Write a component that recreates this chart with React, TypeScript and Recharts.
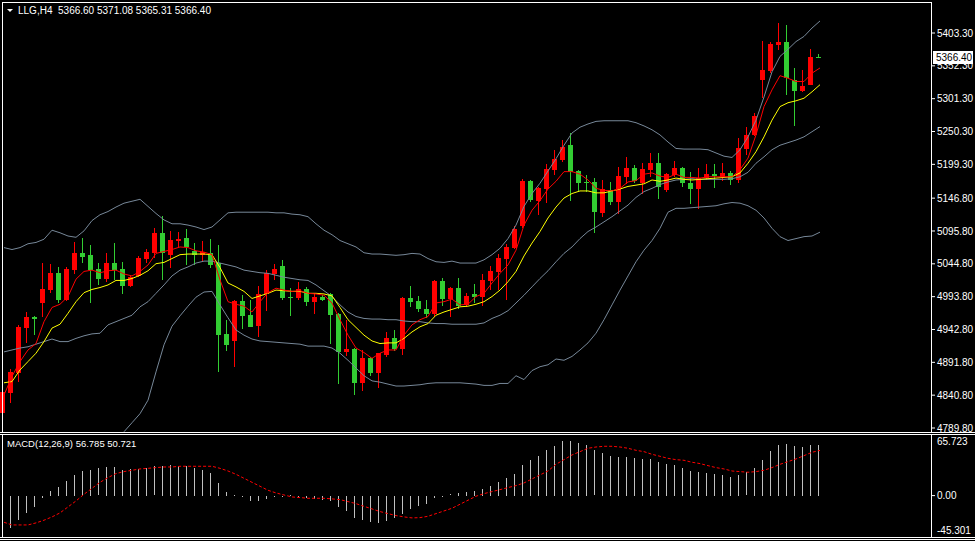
import { ComposedChart, Bar, Line, XAxis, YAxis, ReferenceLine } from 'recharts';

// H4 candles (index 0 = leftmost bar)
const opens = [
  4812.6, 4844.6, 4875.7, 4945.6, 4962.7, 4984.4, 5004.1, 5030.1, 4988.6, 5035.2,
  5062.1, 5058.5, 5036.8, 5021.2, 5046.5, 5036.8, 5010.8, 5025.9, 5051.8, 5061.1,
  5093.1, 5058.5, 5080.2, 5085.4, 5064.7, 5058.5, 5061.1, 5045.6, 4935.8, 4925.4,
  4987.1, 4965.3, 4948.2, 4997.9, 5029.0, 5041.4, 4993.3, 4991.7, 5005.2, 4986.0,
  4993.7, 4997.9, 4966.9, 4908.3, 4912.5, 4860.2, 4899.0, 4875.7, 4903.2, 4930.0,
  4912.5, 4992.2, 4987.1, 4974.6, 4966.4, 5018.1, 4990.2, 5007.7, 4980.8, 4997.9,
  4993.7, 5018.1, 5032.6, 5052.3, 5069.8, 5104.0, 5173.9, 5142.8, 5161.0, 5190.5,
  5206.0, 5229.3, 5189.0, 5172.4, 5172.3, 5124.2, 5159.5, 5141.3, 5180.1, 5194.1,
  5170.8, 5190.5, 5201.8, 5159.5, 5182.8, 5194.1, 5170.8, 5161.0, 5178.6, 5184.3,
  5180.1, 5185.4, 5175.0, 5223.1, 5244.9, 5330.3, 5344.3, 5384.7, 5389.8, 5330.3,
  5313.2, 5322.6, 5366.6,
];
const highs = [
  4880.0, 4881.4, 4949.8, 4969.5, 4963.8, 5046.5, 5044.5, 5039.4, 5040.3, 5079.2,
  5085.4, 5074.0, 5045.6, 5062.1, 5077.6, 5048.1, 5027.4, 5056.9, 5067.3, 5100.0,
  5119.1, 5096.2, 5094.7, 5098.4, 5077.6, 5080.2, 5083.4, 5074.0, 4957.5, 4988.6,
  4996.4, 4988.6, 5010.3, 5035.2, 5044.5, 5050.7, 5006.8, 5017.0, 5009.3, 4999.0,
  4996.4, 4999.9, 4968.0, 4957.5, 4913.5, 4911.0, 4900.5, 4906.8, 4939.4, 4942.0,
  4993.7, 5010.8, 4995.3, 4988.6, 5019.7, 5022.3, 5009.3, 5022.3, 4999.0, 5013.5,
  5029.0, 5041.9, 5060.1, 5075.1, 5104.0, 5176.5, 5175.0, 5164.6, 5199.8, 5221.6,
  5237.1, 5247.5, 5190.5, 5182.8, 5177.6, 5175.0, 5171.4, 5195.7, 5210.2, 5198.3,
  5200.9, 5217.4, 5216.5, 5185.4, 5205.0, 5195.0, 5187.9, 5193.2, 5199.4, 5199.4,
  5200.9, 5189.0, 5240.7, 5257.8, 5278.6, 5390.9, 5388.9, 5419.3, 5415.7, 5348.5,
  5345.8, 5378.0, 5371.08,
];
const lows = [
  4799.6, 4828.6, 4861.7, 4921.4, 4934.2, 4962.7, 4999.0, 4983.5, 4987.5, 5029.0,
  5046.5, 4983.5, 5011.9, 5017.0, 5019.7, 4997.5, 5009.3, 5023.9, 5045.6, 5053.4,
  5019.7, 5037.8, 5068.9, 5043.0, 5043.0, 5048.1, 5037.8, 4877.2, 4909.9, 4885.0,
  4943.6, 4946.2, 4931.6, 4972.0, 5019.7, 4988.6, 4963.8, 4988.6, 4979.3, 4966.9,
  4987.0, 4920.3, 4858.1, 4901.6, 4841.0, 4847.7, 4870.6, 4852.4, 4899.6, 4909.9,
  4903.2, 4978.2, 4969.5, 4960.2, 4962.7, 4979.8, 4962.7, 4974.2, 4977.3, 4983.5,
  4979.3, 5004.1, 5004.1, 4988.6, 5067.8, 5100.0, 5141.3, 5120.6, 5139.7, 5182.8,
  5203.4, 5142.8, 5156.8, 5156.8, 5093.1, 5117.1, 5136.2, 5122.2, 5168.8, 5169.9,
  5153.2, 5180.1, 5145.0, 5156.8, 5180.1, 5164.6, 5137.7, 5129.5, 5175.0, 5162.6,
  5173.9, 5167.2, 5170.8, 5213.8, 5243.3, 5301.9, 5340.7, 5376.9, 5307.0, 5258.9,
  5311.7, 5322.6, 5365.31,
];
const closes = [
  4846.2, 4877.2, 4947.1, 4962.7, 4958.6, 5005.7, 5030.1, 4988.6, 5036.8, 5062.1,
  5055.9, 5035.2, 5021.2, 5046.5, 5035.2, 5010.8, 5023.9, 5053.4, 5063.6, 5093.1,
  5061.1, 5081.8, 5083.4, 5070.5, 5058.5, 5062.4, 5043.0, 4934.2, 4918.7, 4987.1,
  4964.2, 4947.1, 4997.9, 5031.0, 5036.8, 4991.7, 4991.7, 5005.2, 4986.0, 4993.7,
  4988.6, 4965.3, 4908.3, 4912.5, 4860.2, 4899.0, 4875.7, 4905.8, 4930.0, 4912.5,
  4992.2, 4986.0, 4974.6, 4966.4, 5018.1, 4990.2, 5007.7, 4979.8, 4995.3, 4993.7,
  5019.7, 5033.6, 5054.3, 5071.4, 5098.9, 5173.9, 5143.9, 5162.1, 5192.1, 5207.6,
  5226.7, 5187.9, 5170.8, 5170.8, 5125.8, 5160.5, 5141.3, 5181.2, 5194.1, 5173.4,
  5191.6, 5201.8, 5164.6, 5184.3, 5194.1, 5169.9, 5161.0, 5178.6, 5184.3, 5181.7,
  5186.3, 5175.0, 5225.2, 5244.9, 5274.4, 5345.8, 5386.2, 5389.8, 5332.9, 5313.2,
  5321.0, 5366.5, 5366.4,
];

// moving averages (red = fast, yellow = slow)
const fastMa = [
  4841, 4870, 4893, 4911, 4921, 4955, 4977, 4982, 4994, 5021,
  5033, 5035, 5031, 5034, 5035, 5029, 5026, 5033, 5043, 5061,
  5064, 5067, 5071, 5070, 5065, 5063, 5059, 5020, 4986, 4982,
  4979, 4970, 4986, 5000, 5007, 5004, 5002, 5003, 4999, 4998,
  4996, 4984, 4958, 4934, 4914, 4907, 4898, 4906, 4911, 4911,
  4934, 4950, 4958, 4963, 4984, 4986, 4990, 4981, 4982, 4994,
  4999, 5015, 5030, 5043, 5066, 5105, 5128, 5143, 5161, 5173,
  5188, 5188, 5184, 5175, 5162, 5159, 5158, 5162, 5172, 5174,
  5184, 5186, 5181, 5179, 5184, 5179, 5179, 5178, 5180, 5180,
  5180, 5180, 5191, 5209, 5245, 5289, 5315, 5337, 5333, 5328,
  5328, 5341, 5349,
];
const slowMa = [
  4860, 4862, 4880, 4893, 4906, 4924, 4945, 4951, 4968, 4986,
  5000, 5005, 5008, 5012, 5019, 5019, 5022, 5027, 5034, 5045,
  5047, 5053, 5059, 5060, 5060, 5060, 5059, 5039, 5015, 5009,
  5002, 4991, 4995, 4999, 5004, 5003, 5002, 5002, 4999, 4999,
  4998, 4995, 4977, 4958, 4946, 4934, 4925, 4921, 4922, 4922,
  4929, 4939, 4947, 4952, 4965, 4970, 4974, 4978, 4979, 4982,
  4986, 4994, 5004, 5017, 5033, 5057, 5077, 5095, 5116, 5133,
  5147, 5154, 5158, 5158, 5155, 5155, 5158, 5161, 5165, 5167,
  5169, 5175, 5173, 5175, 5178, 5176, 5175, 5176, 5177, 5178,
  5179, 5180, 5186, 5201, 5219, 5242, 5268, 5289, 5295, 5298,
  5302, 5312, 5323,
];

// Bollinger bands
const bandUpper = [
  5070, 5067, 5070, 5076, 5078, 5083, 5097, 5093, 5088, 5086,
  5096, 5112, 5121, 5126, 5133, 5139, 5142, 5145, 5134, 5123,
  5113, 5107, 5107, 5105, 5102, 5098, 5102, 5113, 5124, 5125,
  5125, 5125, 5125, 5125, 5124, 5124, 5122, 5121, 5118, 5107,
  5097, 5090, 5081, 5076, 5071, 5062, 5060, 5060, 5059, 5058,
  5059, 5061, 5060, 5053, 5048, 5047, 5049, 5046, 5046, 5046,
  5051, 5059, 5069, 5084, 5105, 5134, 5154, 5170, 5189, 5208,
  5229, 5248, 5257, 5262, 5266, 5267, 5267, 5267, 5267, 5264,
  5259, 5253, 5245, 5234, 5224, 5223, 5223, 5223, 5222, 5217,
  5212, 5210, 5222, 5242, 5268, 5304, 5343, 5367, 5378, 5390,
  5398, 5411, 5422,
];
const bandMiddle = [
  4908, 4911, 4914, 4916, 4920, 4924, 4928, 4924, 4924, 4929,
  4933, 4936, 4937, 4950, 4955, 4960, 4965, 4978, 4986, 4999,
  5012, 5026, 5035, 5040, 5046, 5049, 5049, 5046, 5043, 5040,
  5035, 5033, 5031, 5030, 5027, 5024, 5022, 5020, 5019, 5012,
  5003, 4994, 4981, 4970, 4963, 4960, 4959, 4959, 4958, 4958,
  4956, 4955, 4955, 4953, 4952, 4952, 4951, 4951, 4951, 4951,
  4953, 4960, 4965, 4972, 4984, 4996, 5009, 5022, 5034, 5048,
  5061, 5071, 5084, 5095, 5102, 5110, 5118, 5127, 5136, 5148,
  5157, 5162, 5168, 5172, 5175, 5176, 5177, 5176, 5176, 5176,
  5176, 5177, 5180, 5187, 5201, 5211, 5222, 5229, 5233, 5237,
  5242, 5250, 5258,
];
const bandLower = [
  null, null, null, null, null, null, null, null, null, null,
  null, null, null, null, null,
  4784, 4798, 4812, 4833, 4877, 4919, 4948, 4964, 4979, 4993,
  5001, 5002, 4981, 4961, 4942, 4934, 4928, 4925, 4924, 4923,
  4922, 4921, 4920, 4917, 4917, 4917, 4914, 4906, 4895, 4883,
  4871, 4863, 4861, 4858, 4855, 4855, 4856, 4857, 4859, 4860,
  4860, 4860, 4860, 4859, 4858, 4856, 4856, 4859, 4859, 4871,
  4865, 4879, 4885, 4888, 4897, 4895, 4901, 4911, 4922, 4937,
  4958, 4981, 5004, 5026, 5048, 5066, 5081, 5100, 5125, 5131,
  5131, 5132, 5133, 5134, 5135, 5138, 5140, 5139, 5135, 5128,
  5116, 5100, 5087, 5081, 5084, 5087, 5088, 5094,
];

// MACD(12,26,9)
const macdHist = [
  -40.3, -35.9, -27.3, -19.1, -12.3, -2.6, 5.2, 9.7, 16.4, 23.2,
  27.6, 29.1, 30.6, 32.1, 32.1, 29.1, 29.9, 29.9, 31.4, 32.9,
  33.6, 34.4, 33.6, 33.6, 31.4, 29.1, 25.4, 14.2, 4.5, 0.7,
  -1.5, -5.2, -6.0, -3.0, -0.4, -0.7, 0.7, -1.5, -2.2, -3.7,
  -4.5, -6.0, -12.7, -17.2, -24.7, -26.9, -29.1, -29.9, -27.6, -24.7,
  -20.2, -14.9, -11.2, -9.0, -2.2, -0.7, 1.5, 3.0, 4.5, 5.2,
  7.5, 11.2, 15.7, 20.2, 24.7, 34.4, 40.3, 44.8, 51.6, 56.0,
  61.3, 61.3, 59.0, 56.8, 50.8, 47.8, 44.8, 43.3, 43.3, 42.6,
  41.1, 41.1, 38.1, 35.9, 34.4, 31.4, 27.6, 26.9, 25.4, 24.7,
  23.2, 20.9, 23.2, 26.2, 31.4, 40.3, 50.1, 56.8, 58.3, 56.0,
  54.5, 56.8, 56.785,
];
const macdSignal = [
  -29.9, -32.9, -32.9, -32.9, -30.6, -27.6, -23.9, -19.4, -12.7, -6.0,
  1.5, 8.2, 14.9, 20.2, 24.7, 26.9, 28.4, 29.9, 30.6, 31.4,
  32.1, 32.1, 32.9, 32.9, 32.9, 32.9, 32.9, 30.6, 27.6, 23.9,
  19.4, 14.9, 10.5, 6.0, 3.0, 0.7, -1.5, -2.2, -3.0, -3.0,
  -3.0, -3.7, -4.5, -6.7, -9.0, -12.0, -14.9, -17.9, -20.2, -22.4,
  -23.9, -25.0, -24.7, -23.2, -20.2, -17.2, -14.2, -9.7, -5.2, -0.7,
  2.2, 4.5, 6.7, 9.0, 11.2, 14.2, 18.7, 23.2, 27.6, 35.1,
  40.3, 45.6, 49.3, 53.1, 54.5, 55.3, 55.3, 54.5, 53.1, 50.8,
  49.3, 46.3, 44.1, 41.8, 40.3, 39.6, 37.4, 35.9, 33.6, 31.4,
  29.9, 27.6, 26.9, 26.2, 26.9, 28.4, 31.4, 35.1, 38.1, 41.1,
  44.8, 48.6, 50.721,
];

const priceTicks = [5403.3, 5352.3, 5301.3, 5250.3, 5199.3, 5146.8, 5095.8, 5044.8, 4993.8, 4942.8, 4891.8, 4840.8, 4789.8];
const priceDomain = [4783.6, 5449.9];
const macdTicks = [65.723, 0, -45.301];
const macdDomain = [-45.301, 65.723];

const UP = '#ff0000';
const DOWN = '#32cd32';
const BAND = '#778899';
const FONT = '"Liberation Sans", Arial, sans-serif';

const rows = opens.map((open, i) => ({
  idx: i,
  open,
  high: highs[i],
  low: lows[i],
  close: closes[i],
  fast: fastMa[i],
  slow: slowMa[i],
  upper: bandUpper[i],
  middle: bandMiddle[i],
  lower: bandLower[i],
  hist: macdHist[i],
  signal: macdSignal[i],
}));

const last = rows[rows.length - 1];

function Candle(props: any) {
  const { x, y, width, height, payload } = props;
  if (!payload) return null;
  const { open, close, high, low } = payload;
  const top = Math.min(y, y + height);
  const span = Math.abs(height);
  const py = (v: number) => top + ((high - v) / (high - low || 1)) * span;
  const col = Math.floor(x + width / 2) - 1;
  const color = close >= open ? UP : DOWN;
  const wickTop = Math.round(top);
  const wickBottom = Math.round(top + span);
  const bodyTop = Math.round(py(Math.max(open, close)));
  const bodyBottom = Math.round(py(Math.min(open, close)));
  return (
    <g>
      <rect x={col} y={wickTop} width={1} height={Math.max(1, wickBottom - wickTop)} fill={color} />
      <rect x={col - 2} y={bodyTop} width={5} height={Math.max(1, bodyBottom - bodyTop)} fill={color} />
    </g>
  );
}

function HistBar(props: any) {
  const { x, y, width, height } = props;
  const col = Math.floor(x + width / 2) - 1;
  const top = Math.round(Math.min(y, y + height));
  const h = Math.max(1, Math.round(Math.abs(height)));
  return <rect x={col} y={top} width={1} height={h} fill="#c0c0c0" />;
}

function PriceTag(props: any) {
  const { viewBox, text } = props;
  if (!viewBox) return null;
  const x = viewBox.x + viewBox.width + 2;
  const y = Math.round(viewBox.y);
  return (
    <g>
      <rect x={x} y={y - 6} width={40} height={13} fill="#fff" />
      <text x={x + 3} y={y + 4} fontSize={10} fontFamily={FONT} fill="#000">{text}</text>
    </g>
  );
}

function MacdTick(props: any) {
  const { x, y, payload } = props;
  const v = payload.value;
  const label = v === 0 ? '0.00' : v.toFixed(3);
  const dy = v > 0 ? 4 : v < 0 ? -6 : 0;
  return (
    <g>
      {v === 0 && <line x1={x - 6} x2={x - 2} y1={y} y2={y} stroke="#fff" />}
      <text x={x} y={y + dy + 3.5} fontSize={10} fontFamily={FONT} fill="#fff">{label}</text>
    </g>
  );
}

const hLine = (top: number, left = 0, width = 975) => (
  <div style={{ position: 'absolute', left, top, width, height: 1, background: '#fff' }} />
);
const vLine = (left: number, top: number, height: number) => (
  <div style={{ position: 'absolute', left, top, width: 1, height, background: '#fff' }} />
);

export default function App() {
  return (
    <div style={{ position: 'relative', width: 975, height: 541, background: '#000', overflow: 'hidden', fontFamily: FONT }}>
      <style>{'html, body { margin: 0; padding: 0; background: #000; }'}</style>

      <div style={{ position: 'absolute', left: 0, top: 0 }}>
        <ComposedChart width={975} height={441} data={rows} margin={{ top: 3, right: 0, bottom: 9, left: 0 }}>
          <XAxis dataKey="idx" hide padding={{ left: 0, right: 107 }} />
          <YAxis
            orientation="right"
            width={44}
            domain={priceDomain}
            ticks={priceTicks}
            interval={0}
            allowDataOverflow
            axisLine={false}
            tickSize={4}
            tickLine={{ stroke: '#fff' }}
            tick={{ fill: '#fff', fontSize: 10, fontFamily: FONT }}
            tickFormatter={(v: number) => v.toFixed(2)}
          />
          <Bar dataKey={(d: any) => [d.low, d.high]} barSize={8} shape={Candle} isAnimationActive={false} />
          <Line dataKey="upper" stroke={BAND} strokeWidth={1} dot={false} activeDot={false} isAnimationActive={false} />
          <Line dataKey="middle" stroke={BAND} strokeWidth={1} dot={false} activeDot={false} isAnimationActive={false} />
          <Line dataKey="lower" stroke={BAND} strokeWidth={1} dot={false} activeDot={false} isAnimationActive={false} />
          <Line dataKey="slow" stroke="#ffff00" strokeWidth={1} dot={false} activeDot={false} isAnimationActive={false} />
          <Line dataKey="fast" stroke="#ff0000" strokeWidth={1} dot={false} activeDot={false} isAnimationActive={false} />
          <ReferenceLine y={last.close} stroke="none" label={<PriceTag text={last.close.toFixed(2)} />} />
        </ComposedChart>
      </div>

      <div style={{ position: 'absolute', left: 0, top: 434 }}>
        <ComposedChart width={975} height={103} data={rows} margin={{ top: 3, right: 0, bottom: 1, left: 0 }}>
          <XAxis dataKey="idx" hide padding={{ left: 0, right: 107 }} />
          <YAxis
            orientation="right"
            width={44}
            domain={macdDomain}
            ticks={macdTicks}
            interval={0}
            allowDataOverflow
            axisLine={false}
            tickSize={4}
            tickLine={false}
            tick={<MacdTick />}
          />
          <Bar dataKey="hist" barSize={8} shape={HistBar} isAnimationActive={false} />
          <Line dataKey="signal" stroke="#ff0000" strokeWidth={1} strokeDasharray="3 2" dot={false} activeDot={false} isAnimationActive={false} />
        </ComposedChart>
      </div>

      {/* window frames */}
      {hLine(2, 2, 930)}
      {hLine(432)}
      {hLine(434)}
      {hLine(537)}
      {hLine(539)}
      {vLine(2, 2, 430)}
      {vLine(931, 2, 430)}
      {vLine(2, 434, 103)}
      {vLine(931, 434, 103)}

      <svg style={{ position: 'absolute', left: 0, top: 0 }} width={20} height={20}>
        <polygon points="7,9 13,9 10,12" fill="#fff" />
      </svg>
      <div style={{ position: 'absolute', left: 18, top: 5, fontSize: 10, lineHeight: '11px', color: '#fff', whiteSpace: 'pre' }}>
        {`LLG,H4  ${last.open.toFixed(2)} ${last.high.toFixed(2)} ${last.low.toFixed(2)} ${last.close.toFixed(2)}`}
      </div>
      <div style={{ position: 'absolute', left: 7, top: 438, fontSize: 9.5, lineHeight: '11px', color: '#fff', whiteSpace: 'pre' }}>
        {`MACD(12,26,9) ${last.hist.toFixed(3)} ${last.signal.toFixed(3)}`}
      </div>
    </div>
  );
}
